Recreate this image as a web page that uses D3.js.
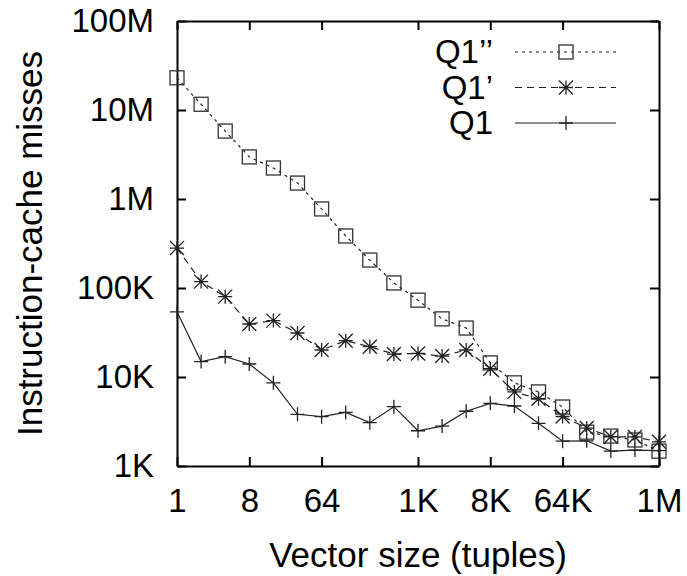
<!DOCTYPE html>
<html>
<head>
<meta charset="utf-8">
<script src="https://cdn.jsdelivr.net/npm/d3@7"></script>
<style>
  body { margin: 0; background: #fff; }
  svg text { font-family: "Liberation Sans", Arial, sans-serif; fill: #000; }
</style>
</head>
<body>
<div id="chart"></div>
<script>
// vector sizes (tuples), powers of two
var vectorSizes = [1, 2, 4, 8, 16, 32, 64, 128, 256, 512, 1024, 2048, 4096, 8192,
  16384, 32768, 65536, 131072, 262144, 524288, 1048576];

// instruction-cache misses
var q1pp = [23000000, 11600000, 5800000, 2970000, 2230000, 1510000, 773000, 384000,
  206000, 114000, 73000, 45000, 35500, 14400, 8600, 6800, 4600, 2400, 2170, 1960, 1470];
var q1p = [281000, 118000, 80000, 39400, 43000, 31200, 20100, 25600, 21900, 18100,
  18400, 17200, 20100, 12400, 6800, 5700, 3600, 2670, 2130, 2120, 1870];
var q1 = [54000, 14900, 16900, 14000, 8600, 3810, 3580, 4000, 3070, 4640, 2490,
  2810, 4120, 5060, 4720, 3020, 1900, 1920, 1470, 1510, 1490];

var xTickValues = [1, 8, 64, 1024, 8192, 65536, 1048576];
var xTickLabels = ["1", "8", "64", "1K", "8K", "64K", "1M"];
var yTickValues = [1e3, 1e4, 1e5, 1e6, 1e7, 1e8];
var yTickLabels = ["1K", "10K", "100K", "1M", "10M", "100M"];

var seriesNames = ["Q1\u2019\u2019", "Q1\u2019", "Q1"];

var W = 687, H = 576;
var margin = {top: 21, right: 28, bottom: 110, left: 177},
  width = W - margin.left - margin.right,
  height = H - margin.top - margin.bottom;

var svg = d3.select("#chart")
  .append("svg")
  .attr("width", W)
  .attr("height", H);

var g = svg.append("g")
  .attr("transform", "translate(" + margin.left + "," + margin.top + ")");

var x = d3.scaleLog().base(2).domain([1, 1048576]).range([0, width]);
var y = d3.scaleLog().domain([1e3, 1e8]).range([height, 0]);

var fontSize = 33;

// axes, ticks pointing inward
var xAxis = d3.axisBottom(x).tickValues(xTickValues)
  .tickFormat(function(d, i) { return xTickLabels[i]; })
  .tickSizeInner(-9).tickSizeOuter(0).tickPadding(23);
var yAxis = d3.axisLeft(y).tickValues(yTickValues)
  .tickFormat(function(d, i) { return yTickLabels[i]; })
  .tickSizeInner(-9).tickSizeOuter(0).tickPadding(23);

var gx = g.append("g").attr("transform", "translate(0," + height + ")").call(xAxis);
var gy = g.append("g").call(yAxis);
var gt = g.append("g").call(d3.axisTop(x).tickValues(xTickValues).tickFormat("")
  .tickSizeInner(-9).tickSizeOuter(0));
var gr = g.append("g").attr("transform", "translate(" + width + ",0)")
  .call(d3.axisRight(y).tickValues(yTickValues).tickFormat("")
  .tickSizeInner(-9).tickSizeOuter(0));

[gx, gy, gt, gr].forEach(function(a) {
  a.select(".domain").attr("stroke", "#000").attr("stroke-width", 2);
  a.selectAll(".tick line").attr("stroke", "#000").attr("stroke-width", 2);
  a.selectAll(".tick text").attr("font-size", fontSize + "px")
    .attr("font-family", "Liberation Sans, Arial, sans-serif").attr("fill", "#000");
});

// axis titles
g.append("text")
  .attr("x", width / 2)
  .attr("y", height + 101)
  .attr("text-anchor", "middle")
  .attr("font-size", "35px")
  .text("Vector size (tuples)");

g.append("text")
  .attr("transform", "translate(" + (42 - margin.left) + "," + (height / 2) + ") rotate(-90)")
  .attr("text-anchor", "middle")
  .attr("font-size", "35px")
  .text("Instruction-cache misses");

// marker drawing
var ms = 7;
function drawMarker(sel, type) {
  if (type === "square") {
    sel.append("rect")
      .attr("x", -ms).attr("y", -ms)
      .attr("width", 2 * ms).attr("height", 2 * ms)
      .attr("fill", "none").attr("stroke", "#333").attr("stroke-width", 1.3);
  } else if (type === "star") {
    sel.append("path")
      .attr("d", "M" + (-ms) + ",0H" + ms + "M0," + (-ms) + "V" + ms +
        "M" + (-ms) + "," + (-ms) + "L" + ms + "," + ms +
        "M" + (-ms) + "," + ms + "L" + ms + "," + (-ms))
      .attr("fill", "none").attr("stroke", "#222").attr("stroke-width", 1.3);
  } else {
    sel.append("path")
      .attr("d", "M" + (-ms) + ",0H" + ms + "M0," + (-ms) + "V" + ms)
      .attr("fill", "none").attr("stroke", "#222").attr("stroke-width", 1.3);
  }
}

var series = [
  {name: seriesNames[0], values: q1pp, marker: "square", dash: "3,4"},
  {name: seriesNames[1], values: q1p, marker: "star", dash: "7,5"},
  {name: seriesNames[2], values: q1, marker: "plus", dash: null}
];

var line = d3.line()
  .x(function(d) { return x(d[0]); })
  .y(function(d) { return y(d[1]); });

series.forEach(function(s) {
  var pts = vectorSizes.map(function(v, i) { return [v, s.values[i]]; });
  g.append("path")
    .datum(pts)
    .attr("d", line)
    .attr("fill", "none")
    .attr("stroke", "#222")
    .attr("stroke-width", 1.2)
    .attr("stroke-dasharray", s.dash);
  g.selectAll(null)
    .data(pts)
    .enter()
    .append("g")
    .attr("transform", function(d) { return "translate(" + x(d[0]) + "," + y(d[1]) + ")"; })
    .each(function() { drawMarker(d3.select(this), s.marker); });
});

// legend
var legend = svg.append("g");
series.forEach(function(s, i) {
  var ly = 52 + i * 35.5;
  legend.append("text")
    .attr("x", 493)
    .attr("y", ly + 11)
    .attr("text-anchor", "end")
    .attr("font-size", fontSize + "px")
    .text(s.name);
  legend.append("line")
    .attr("x1", 515).attr("x2", 616)
    .attr("y1", ly).attr("y2", ly)
    .attr("stroke", "#222").attr("stroke-width", 1.2)
    .attr("stroke-dasharray", s.dash);
  var m = legend.append("g").attr("transform", "translate(566," + ly + ")");
  drawMarker(m, s.marker);
});
</script>
</body>
</html>
